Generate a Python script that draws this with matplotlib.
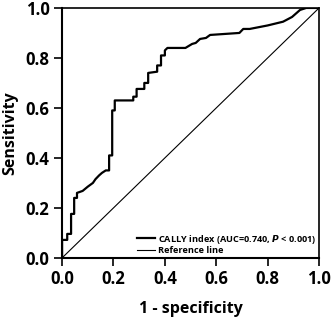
import matplotlib.pyplot as plt

# ROC curve (1 - specificity, sensitivity)
fpr = [0.0, 0.0, 0.02, 0.02, 0.035, 0.035, 0.047, 0.047, 0.058, 0.058, 0.08,
       0.10, 0.12, 0.13, 0.144, 0.155, 0.17, 0.183, 0.183, 0.195, 0.195, 0.205,
       0.205, 0.277, 0.277, 0.29, 0.29, 0.32, 0.32, 0.335, 0.335, 0.37, 0.37,
       0.385, 0.385, 0.40, 0.40, 0.41, 0.48, 0.506, 0.52, 0.537, 0.56, 0.576,
       0.69, 0.705, 0.73, 0.80, 0.86, 0.895, 0.926, 0.95, 1.0]
tpr = [0.0, 0.072, 0.072, 0.096, 0.096, 0.176, 0.176, 0.24, 0.24, 0.26, 0.268,
       0.285, 0.30, 0.315, 0.33, 0.34, 0.35, 0.35, 0.41, 0.41, 0.59, 0.59,
       0.63, 0.63, 0.645, 0.645, 0.676, 0.676, 0.70, 0.70, 0.74, 0.745, 0.77,
       0.77, 0.81, 0.81, 0.83, 0.84, 0.84, 0.856, 0.86, 0.876, 0.88, 0.892,
       0.90, 0.916, 0.916, 0.93, 0.945, 0.964, 0.992, 1.0, 1.0]
ref = [0.0, 1.0]

plt.rcParams['font.family'] = ['Open Sans', 'DejaVu Sans']
plt.rcParams['font.weight'] = 'bold'

fig = plt.figure(figsize=(3.32, 3.18), dpi=100)
ax = fig.add_axes([0.187, 0.189, 0.774, 0.786])

ax.plot(fpr, tpr, color='black', lw=1.6,
        label='CALLY index (AUC=0.740, $\\it{P}$ < 0.001)')
ax.plot(ref, ref, color='black', lw=0.8, label='Reference line')

ax.set_xlim(0, 1)
ax.set_ylim(0, 1)
ticks = [0.0, 0.2, 0.4, 0.6, 0.8, 1.0]
ax.set_xticks(ticks)
ax.set_yticks(ticks)
ax.set_xticklabels(['%.1f' % t for t in ticks], fontsize=12, fontweight='bold')
ax.set_yticklabels(['%.1f' % t for t in ticks], fontsize=12, fontweight='bold')
ax.tick_params(direction='out', length=6, width=1.2, pad=3)

for s in ['left', 'bottom']:
    ax.spines[s].set_linewidth(1.5)
for s in ['top', 'right']:
    ax.spines[s].set_linewidth(1.2)

ax.set_xlabel('1 - specificity', fontsize=11.5, fontweight='bold', labelpad=9)
ax.set_ylabel('Sensitivity', fontsize=11.5, fontweight='bold', labelpad=5)

leg = ax.legend(loc='lower right', frameon=False, fontsize=6.6, handlelength=2.0,
                handletextpad=0.3, borderaxespad=0.0, labelspacing=0.05,
                borderpad=0.3)

fig.savefig('out.png', dpi=100)
